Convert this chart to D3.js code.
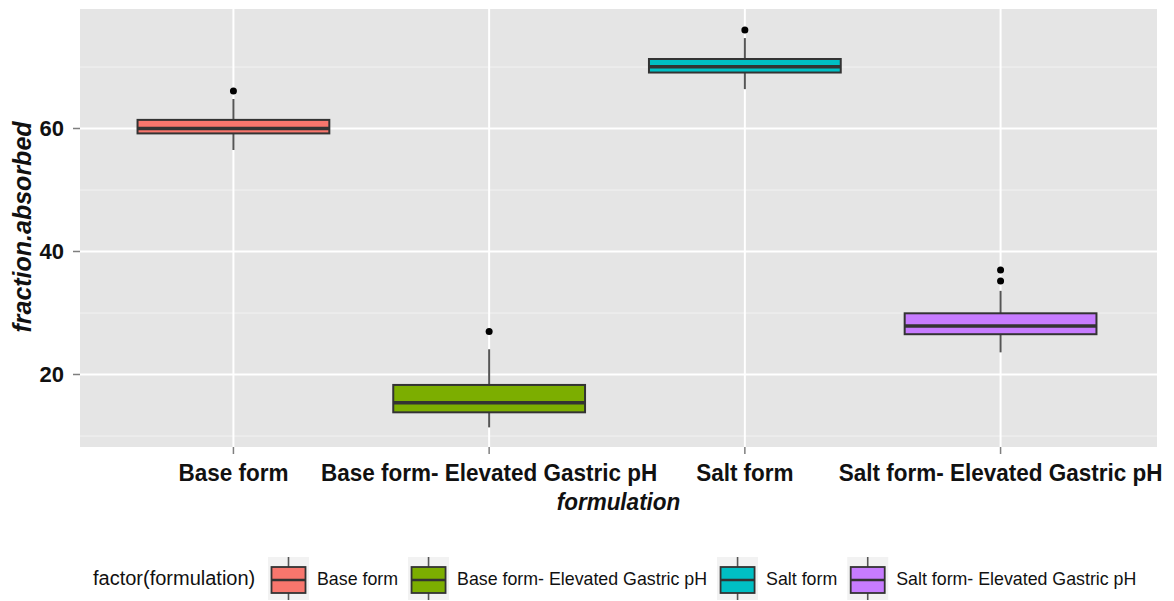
<!DOCTYPE html>
<html>
<head>
<meta charset="utf-8">
<script src="https://cdn.jsdelivr.net/npm/d3@7"></script>
<style>
  html, body { margin: 0; padding: 0; background: #ffffff; }
  svg { display: block; }
</style>
</head>
<body>
<svg id="chart" width="1174" height="601"></svg>
<script>
// ---- data ----
const categories = ["Base form", "Base form- Elevated Gastric pH", "Salt form", "Salt form- Elevated Gastric pH"];
const colors = ["#F8766D", "#7CAE00", "#00BFC4", "#C77CFF"];
const whiskerLow  = [56.5, 11.4, 66.4, 23.6];
const q1          = [59.2, 13.85, 69.1, 26.55];
const medians     = [60.0, 15.4, 70.05, 27.9];
const q3          = [61.4, 18.3, 71.3, 29.95];
const whiskerHigh = [64.8, 24.1, 74.7, 33.6];
const outliers    = [[66.1], [27.0], [76.0], [37.0, 35.2]];
const yTicks = [20, 40, 60];
const yMinor = [10, 30, 50, 70];
const xTitle = "formulation";
const yTitle = "fraction.absorbed";
const legendTitle = "factor(formulation)";

// ---- layout ----
const svg = d3.select("#chart");
const panel = { left: 80, right: 1157, top: 9, bottom: 447 };

// discrete x scale with ggplot-like 0.6 expansion on each side
const x = d3.scalePoint()
  .domain(categories)
  .range([panel.left, 1154])
  .padding(0.6);
const center = c => x(c);
const step = x.step();
const boxW = step * 0.75;

const y = d3.scaleLinear().domain([8.21, 79.43]).range([panel.bottom, panel.top]);

// panel background
svg.append("rect")
  .attr("x", panel.left).attr("y", panel.top)
  .attr("width", panel.right - panel.left).attr("height", panel.bottom - panel.top)
  .attr("fill", "#E5E5E5");

// minor grid
svg.append("g").selectAll("line").data(yMinor).join("line")
  .attr("x1", panel.left).attr("x2", panel.right)
  .attr("y1", d => y(d)).attr("y2", d => y(d))
  .attr("stroke", "#F2F2F2").attr("stroke-width", 1);

// major grid
svg.append("g").selectAll("line").data(yTicks).join("line")
  .attr("x1", panel.left).attr("x2", panel.right)
  .attr("y1", d => y(d)).attr("y2", d => y(d))
  .attr("stroke", "#FFFFFF").attr("stroke-width", 2);
svg.append("g").selectAll("line").data(categories).join("line")
  .attr("x1", d => center(d)).attr("x2", d => center(d))
  .attr("y1", panel.top).attr("y2", panel.bottom)
  .attr("stroke", "#FFFFFF").attr("stroke-width", 2);

// boxplots
const boxes = svg.append("g").selectAll("g").data(categories).join("g");
boxes.append("line")
  .attr("x1", d => center(d)).attr("x2", d => center(d))
  .attr("y1", (d, i) => y(whiskerHigh[i])).attr("y2", (d, i) => y(q3[i]))
  .attr("stroke", "#555").attr("stroke-width", 2);
boxes.append("line")
  .attr("x1", d => center(d)).attr("x2", d => center(d))
  .attr("y1", (d, i) => y(q1[i])).attr("y2", (d, i) => y(whiskerLow[i]))
  .attr("stroke", "#555").attr("stroke-width", 2);
boxes.append("rect")
  .attr("x", d => center(d) - boxW / 2)
  .attr("width", boxW)
  .attr("y", (d, i) => y(q3[i]))
  .attr("height", (d, i) => y(q1[i]) - y(q3[i]))
  .attr("fill", (d, i) => colors[i])
  .attr("stroke", "#333").attr("stroke-width", 2);
boxes.append("line")
  .attr("x1", d => center(d) - boxW / 2).attr("x2", d => center(d) + boxW / 2)
  .attr("y1", (d, i) => y(medians[i])).attr("y2", (d, i) => y(medians[i]))
  .attr("stroke", "#333").attr("stroke-width", 3.5);
boxes.each(function(d, i) {
  d3.select(this).selectAll("circle").data(outliers[i]).join("circle")
    .attr("cx", center(d)).attr("cy", v => y(v)).attr("r", 3.5)
    .attr("fill", "#000");
});

// axes ticks
svg.append("g").selectAll("line").data(yTicks).join("line")
  .attr("x1", panel.left - 7).attr("x2", panel.left)
  .attr("y1", d => y(d)).attr("y2", d => y(d))
  .attr("stroke", "#7f7f7f").attr("stroke-width", 1.5);
svg.append("g").selectAll("line").data(categories).join("line")
  .attr("x1", d => center(d)).attr("x2", d => center(d))
  .attr("y1", panel.bottom).attr("y2", panel.bottom + 7)
  .attr("stroke", "#7f7f7f").attr("stroke-width", 1.5);

const fontFam = "Liberation Sans, Arial, sans-serif";

// tick labels
svg.append("g").selectAll("text").data(yTicks).join("text")
  .attr("x", 64).attr("y", d => y(d)).attr("dy", "0.36em")
  .attr("text-anchor", "end")
  .attr("font-family", fontFam)
  .attr("font-weight", "bold").attr("font-size", 22)
  .attr("fill", "#111")
  .text(d => d);
svg.append("g").selectAll("text").data(categories).join("text")
  .attr("transform", d => `translate(${center(d)},481) scale(1,1.08)`)
  .attr("text-anchor", "middle")
  .attr("font-family", fontFam)
  .attr("font-weight", "bold").attr("font-size", 22.5)
  .attr("fill", "#111")
  .text(d => d);

// axis titles
svg.append("text")
  .attr("transform", `translate(${(panel.left + panel.right) / 2},510) scale(1,1.08)`)
  .attr("text-anchor", "middle")
  .attr("font-family", fontFam)
  .attr("font-weight", "bold").attr("font-style", "italic").attr("font-size", 22.5)
  .attr("fill", "#111")
  .text(xTitle);
svg.append("text")
  .attr("transform", "translate(31,227) rotate(-90)")
  .attr("text-anchor", "middle")
  .attr("font-family", fontFam)
  .attr("font-weight", "bold").attr("font-style", "italic").attr("font-size", 25)
  .attr("fill", "#111")
  .text(yTitle);

// legend
const legend = svg.append("g");
const legY = 557, keyW = 41, keyH = 43;
legend.append("text")
  .attr("x", 93).attr("y", 585)
  .attr("font-family", fontFam).attr("font-size", 20)
  .attr("fill", "#111")
  .text(legendTitle);
let cursor = 268;
categories.forEach((c, i) => {
  const g = legend.append("g").attr("transform", `translate(${cursor},${legY})`);
  g.append("rect").attr("width", keyW).attr("height", keyH).attr("fill", "#F2F2F2");
  g.append("line").attr("x1", keyW / 2).attr("x2", keyW / 2).attr("y1", 0).attr("y2", keyH)
    .attr("stroke", "#555").attr("stroke-width", 1.6);
  g.append("rect").attr("x", 3.5).attr("y", 10).attr("width", keyW - 7).attr("height", 26)
    .attr("fill", colors[i]).attr("stroke", "#333").attr("stroke-width", 1.8);
  g.append("line").attr("x1", 3.5).attr("x2", keyW - 3.5).attr("y1", 23).attr("y2", 23)
    .attr("stroke", "#333").attr("stroke-width", 2.5);
  const t = legend.append("text")
    .attr("x", cursor + keyW + 8).attr("y", 585)
    .attr("font-family", fontFam).attr("font-size", 17.8)
    .attr("fill", "#111")
    .text(c);
  const w = t.node().getComputedTextLength();
  cursor = cursor + keyW + 8 + w + 10;
});
</script>
</body>
</html>
